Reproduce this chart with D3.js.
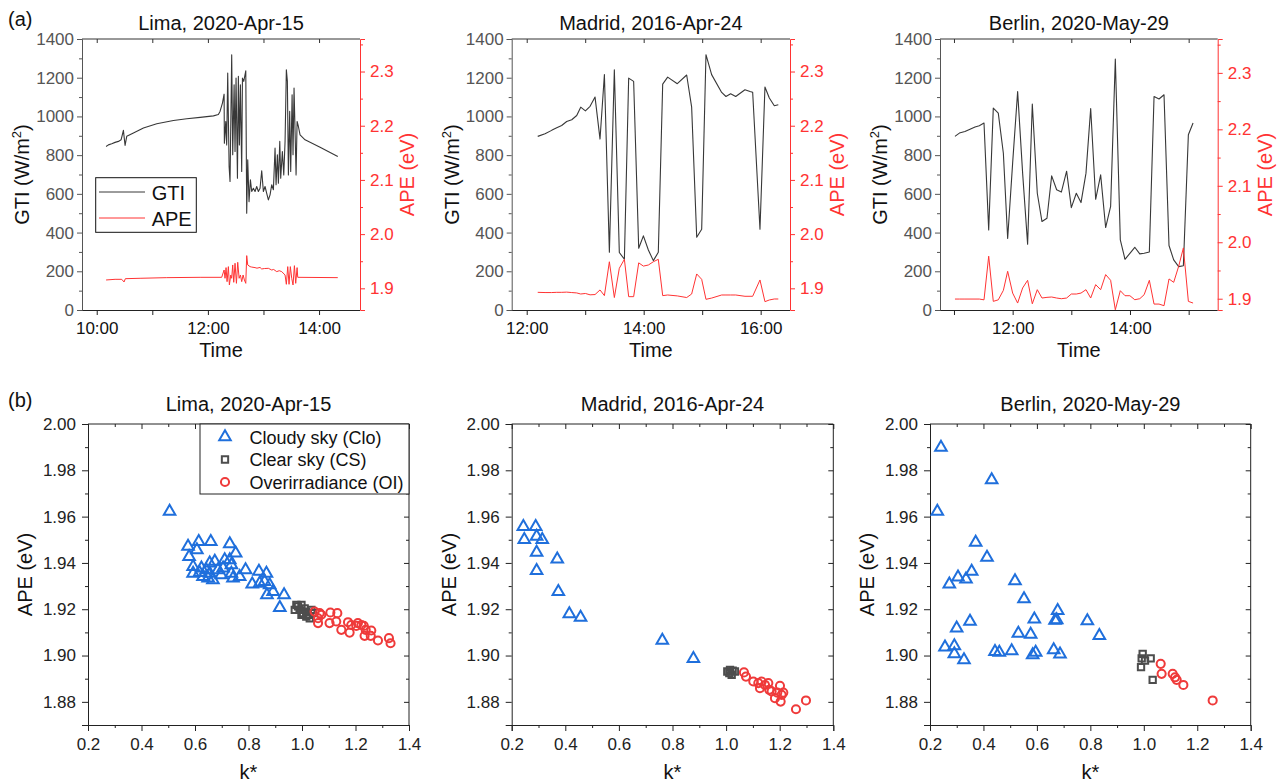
<!DOCTYPE html>
<html><head><meta charset="utf-8">
<script src="https://cdn.jsdelivr.net/npm/d3@7"></script>
<style>
body{margin:0;background:#fff;}
svg{display:block;font-family:"Liberation Sans",Arial,Helvetica,sans-serif;}
</style></head><body>
<svg id="c" width="1282" height="784"></svg>
<script>
// ---------- DATA (time = minutes after midnight) ----------
const titles = ["Lima, 2020-Apr-15", "Madrid, 2016-Apr-24", "Berlin, 2020-May-29"];

const limaGtiTime = [610.1,612.6,616.2,619.8,623.4,626.3,628.8,630.6,632.4,639.6,650.4,664.8,682.8,697.2,711.6,726.0,731.3,733.1,735.7,737.5,737.8,739.3,740.3,741.4,742.9,743.9,745.7,746.8,748.3,749.3,750.4,751.9,752.9,754.0,755.1,756.5,757.3,758.7,760.9,761.9,763.0,764.4,765.9,767.3,769.1,770.9,772.7,774.5,776.3,778.1,779.9,781.7,783.5,785.3,787.1,788.9,790.7,792.5,793.6,795.0,796.1,797.6,798.6,800.4,801.9,803.3,804.7,805.8,806.9,808.3,809.4,810.9,811.9,813.0,814.1,815.2,816.3,817.7,819.5,824.9,841.1,860.2];
const limaGti = [845,853,859,866,871,879,928,850,897,914,940,962,979,988,995,1003,1010,1026,1069,1115,862,974,853,1224,741,664,1319,802,1164,819,1198,681,1207,853,1164,716,1198,1181,1236,500,776,560,672,612,629,612,638,612,629,719,612,638,603,569,595,647,621,836,647,802,655,871,681,819,698,871,1241,1181,698,1026,716,1112,802,1147,922,698,974,948,905,879,841,793];
const limaApeTime = [610.1,619.8,627.0,629.5,630.9,646.8,675.6,711.6,734.9,737.5,738.5,739.6,740.7,742.1,743.2,744.7,745.7,746.8,747.9,749.3,750.8,752.2,753.7,755.1,756.5,758.0,759.4,760.9,761.9,763.0,765.5,767.3,770.9,773.0,776.3,778.1,781.0,785.3,788.9,791.0,794.3,797.0,799.7,803.3,804.7,806.2,807.6,809.0,810.5,811.9,813.4,814.8,816.3,817.0,860.2];
const limaApe = [1.9154,1.9166,1.9166,1.9117,1.9178,1.9185,1.9197,1.9203,1.9203,1.9338,1.9185,1.9382,1.9123,1.9400,1.9062,1.9246,1.9185,1.9431,1.9111,1.9462,1.9092,1.9480,1.9185,1.9246,1.9123,1.9246,1.9154,1.9092,1.9603,1.9431,1.9400,1.9392,1.9382,1.9372,1.9385,1.9357,1.9365,1.9369,1.9338,1.9348,1.9308,1.9325,1.9308,1.9246,1.9074,1.9400,1.9074,1.9400,1.9185,1.9062,1.9418,1.9092,1.9382,1.9203,1.9197];

const madridTime = [731.3,738.8,745.6,750.8,755.9,761.0,766.2,771.3,775.4,780.2,785.0,790.1,795.2,799.7,804.8,809.9,815.0,820.2,824.6,829.7,834.9,839.7,844.8,849.9,855.0,859.5,864.6,874.5,884.1,889.2,894.4,899.5,903.9,909.7,920.0,924.4,929.2,934.4,943.9,949.1,951.8,959.3,964.4,968.9,974.0,978.1];
const madridGti = [897,910,928,941,953,974,983,1005,1048,1029,1052,1100,883,1216,298,1241,297,262,1198,1181,319,383,310,255,298,1167,1203,1169,1214,1048,376,417,1319,1216,1124,1103,1117,1103,1138,1129,1125,417,1152,1095,1055,1060];
const madridApe = [1.8926,1.8922,1.8922,1.8926,1.8926,1.893,1.8922,1.8915,1.8895,1.8905,1.888,1.8885,1.897,1.8865,1.949,1.883,1.937,1.9535,1.8846,1.8846,1.947,1.941,1.943,1.949,1.9535,1.8865,1.8877,1.886,1.883,1.8895,1.9265,1.9166,1.8797,1.882,1.8877,1.8877,1.8877,1.8877,1.8853,1.8853,1.8853,1.9154,1.8754,1.8785,1.8803,1.8803];

const berlinTime = [661.0,665.5,671.2,676.4,681.5,685.9,690.7,695.5,700.2,705.3,710.5,714.9,720.0,725.1,730.2,735.3,740.1,745.2,750.0,755.1,759.9,765.0,769.8,775.2,780.0,785.1,789.9,795.0,799.8,804.9,810.0,815.1,820.2,825.0,830.1,834.9,839.9,844.9,850.0,854.5,859.8,864.6,869.7,874.8,879.9,884.7,889.8,894.6,899.7,904.5];
const berlinGti = [897,914,922,934,945,952,966,414,1043,1017,810,369,760,1128,707,340,1064,603,457,474,693,621,609,717,529,603,555,707,1041,572,698,426,535,1297,362,262,293,324,290,293,300,1103,1090,1112,333,259,224,229,905,966];
const berlinApe = [1.8994,1.8994,1.8994,1.8994,1.8994,1.8994,1.898,1.9753,1.8953,1.898,1.9148,1.9486,1.91,1.8923,1.919,1.9326,1.891,1.916,1.9012,1.9024,1.903,1.9012,1.9,1.9012,1.9083,1.9083,1.91,1.916,1.9012,1.9249,1.916,1.9427,1.9326,1.8804,1.9142,1.9053,1.9053,1.8982,1.9,1.9071,1.9326,1.8905,1.8905,1.8876,1.935,1.929,1.9575,1.99,1.8953,1.8923];

// scatter: k* and APE per class
const limaCloK = [0.505,0.574,0.614,0.659,0.730,0.607,0.752,0.578,0.593,0.624,0.655,0.674,0.711,0.730,0.736,0.593,0.630,0.655,0.667,0.698,0.705,0.736,0.742,0.767,0.789,0.839,0.867,0.814,0.842,0.860,0.879,0.892,0.869,0.933,0.917,0.642,0.686,0.617,0.649];
const limaCloApe = [1.9622,1.9471,1.9492,1.9492,1.9482,1.9456,1.9442,1.9427,1.9384,1.9377,1.9399,1.9406,1.9413,1.9413,1.9391,1.9355,1.9341,1.9355,1.9327,1.9348,1.9377,1.9355,1.9334,1.9341,1.9370,1.9363,1.9355,1.9308,1.9312,1.9319,1.9305,1.9276,1.9262,1.9262,1.9207,1.937,1.937,1.9358,1.9334];
const limaCsK = [0.973,0.985,0.998,0.991,1.010,1.004,1.016,1.022,1.029,0.979,1.035,1.016,0.998,1.041];
const limaCsApe = [1.9197,1.9212,1.9219,1.9197,1.9204,1.9183,1.9190,1.9176,1.9161,1.9219,1.9197,1.9168,1.9176,1.9183];
const limaOiK = [1.047,1.066,1.060,1.072,1.106,1.132,1.103,1.128,1.147,1.172,1.184,1.178,1.203,1.209,1.222,1.231,1.238,1.259,1.234,1.257,1.284,1.325,1.331,1.060];
const limaOiApe = [1.919,1.9183,1.9161,1.9176,1.9186,1.9183,1.914,1.9147,1.9111,1.9144,1.9132,1.9099,1.9128,1.914,1.9132,1.9128,1.9111,1.9108,1.9085,1.9085,1.9065,1.9075,1.9053,1.914];

const madridCloK = [0.2435,0.247,0.2895,0.293,0.314,0.293,0.293,0.370,0.374,0.415,0.457,0.762,0.878];
const madridCloApe = [1.9557,1.950,1.9557,1.9514,1.950,1.9445,1.9367,1.9416,1.9276,1.918,1.9165,1.9065,1.8986];
const madridCsK = [1.0045,1.0145,1.0245,1.0208,1.033,1.012];
const madridCsApe = [1.8931,1.8938,1.8935,1.8917,1.8931,1.8924];
const madridOiK = [1.0667,1.0742,1.1015,1.1202,1.1264,1.1326,1.1451,1.1575,1.1612,1.1699,1.1823,1.191,1.201,1.2072,1.2134,1.2035,1.2607,1.298];
const madridOiApe = [1.8927,1.8909,1.8888,1.8881,1.8859,1.8888,1.8873,1.8881,1.8852,1.8845,1.8816,1.884,1.8869,1.883,1.884,1.8801,1.8768,1.8806];

const berlinCloK = [0.241,0.2274,0.4308,0.3709,0.4133,0.3559,0.3048,0.3347,0.2723,0.5181,0.5518,0.2998,0.3497,0.5306,0.5904,0.5767,0.6777,0.674,0.7888,0.8337,0.2561,0.2911,0.2911,0.3272,0.4432,0.4594,0.5056,0.5842,0.5954,0.6628,0.6865,0.668];
const berlinCloApe = [1.9899,1.9622,1.9758,1.9489,1.9424,1.9363,1.9338,1.933,1.9308,1.9322,1.9245,1.9118,1.9147,1.9096,1.9157,1.9091,1.9194,1.9154,1.915,1.9086,1.9036,1.9042,1.9007,1.8981,1.9017,1.9013,1.902,1.9003,1.9013,1.9024,1.9006,1.9152];
const berlinCsK = [0.9958,0.9921,1.0045,1.0258,0.9896,1.0332];
const berlinCsApe = [1.9007,1.8988,1.8978,1.8988,1.895,1.8895];
const berlinOiK = [1.0632,1.0667,1.1081,1.1168,1.123,1.148,1.2577];
const berlinOiApe = [1.8964,1.8921,1.8921,1.8906,1.8895,1.8873,1.8806];

// ticks
const gtiTicks = [0,200,400,600,800,1000,1200,1400];
const gtiMinor = [100,300,500,700,900,1100,1300];
const apeTicks = [1.9,2.0,2.1,2.2,2.3];
const apeMinor = [1.95,2.05,2.15,2.25,2.35];
const kTicks = [0.2,0.4,0.6,0.8,1.0,1.2,1.4];
const kMinor = [0.3,0.5,0.7,0.9,1.1,1.3];
const apeSTicks = [1.88,1.90,1.92,1.94,1.96,1.98,2.00];
const apeSMinor = [1.87,1.89,1.91,1.93,1.95,1.97,1.99];
const legendTop = ["GTI","APE"];
const legendBottom = ["Cloudy sky (Clo)","Clear sky (CS)","Overirradiance (OI)"];

// ---------- STYLE ----------
const FONT = '"Liberation Sans",Arial,Helvetica,sans-serif';
const C_GTI = "#383838", C_APE = "#ff3333", C_AX = "#555555";
const C_CLO = "#1f6fdc", C_CS = "#4d4d4d", C_OI = "#ef3a3a";

const svg = d3.select("#c");
svg.append("rect").attr("width",1282).attr("height",784).attr("fill","#fff");

function styleAxis(g, color, fs){
  g.attr("font-size", fs).attr("font-family", FONT);
  g.selectAll("path.domain").attr("stroke", color);
  g.selectAll(".tick line").attr("stroke", color);
  g.selectAll(".tick text").attr("fill", color);
}
const hhmm = m => `${Math.floor(m/60)}:${String(Math.round(m%60)).padStart(2,"0")}`;

// ---------- TOP PANELS ----------
const topPanels = [
  {x0:82, x1:360, dom:[584.1,884.2], hours:[600,660,720,780,840], labels:[600,720,840], apeDom:[1.86,2.36],
   gT:limaGtiTime, g:limaGti, aT:limaApeTime, a:limaApe, legend:true},
  {x0:511.7, x1:790, dom:[704.6,990.1], hours:[720,780,840,900,960], labels:[720,840,960], apeDom:[1.86,2.36],
   gT:madridTime, g:madridGti, aT:madridTime, a:madridApe},
  {x0:940, x1:1217.7, dom:[645.7,929.7], hours:[660,720,780,840,900], labels:[720,840], apeDom:[1.88,2.36],
   gT:berlinTime, g:berlinGti, aT:berlinTime, a:berlinApe}
];
const TY0 = 39, TY1 = 310;

topPanels.forEach((p,i)=>{
  const x = d3.scaleLinear().domain(p.dom).range([p.x0,p.x1]);
  const yL = d3.scaleLinear().domain([0,1400]).range([TY1,TY0]);
  const yR = d3.scaleLinear().domain(p.apeDom).range([TY1,TY0]);
  const G = svg.append("g");

  // top border
  G.append("line").attr("x1",p.x0).attr("x2",p.x1).attr("y1",TY0).attr("y2",TY0).attr("stroke","#333").attr("stroke-width",1);
  G.append("g").attr("transform",`translate(0,${TY0})`)
    .call(d3.axisBottom(x).tickValues(p.hours).tickSize(4).tickFormat(""))
    .call(g=>{g.select(".domain").remove(); g.selectAll("line").attr("stroke","#333");});

  // lines
  const lineG = d3.line().x((d,j)=>x(p.gT[j])).y(d=>yL(d));
  G.append("path").datum(p.g).attr("d",lineG).attr("fill","none").attr("stroke",C_GTI).attr("stroke-width",1.1).attr("stroke-linejoin","round");
  const lineA = d3.line().x((d,j)=>x(p.aT[j])).y(d=>yR(d));
  G.append("path").datum(p.a).attr("d",lineA).attr("fill","none").attr("stroke",C_APE).attr("stroke-width",1).attr("stroke-linejoin","round");

  // bottom axis
  const xb = G.append("g").attr("transform",`translate(0,${TY1})`)
    .call(d3.axisBottom(x).tickValues(p.hours).tickSize(5).tickPadding(7)
      .tickFormat(v=> p.labels.includes(v) ? hhmm(v) : ""));
  xb.select(".domain").attr("d",`M${p.x0},0.5H${p.x1}`);
  styleAxis(xb,"#222",17);
  xb.selectAll(".tick text").attr("fill","#111");

  // left axis
  const yl = G.append("g").attr("transform",`translate(${p.x0},0)`)
    .call(d3.axisLeft(yL).tickValues(gtiTicks).tickSize(5).tickPadding(3).tickFormat(d3.format("d")));
  styleAxis(yl,C_AX,17);
  G.append("g").attr("transform",`translate(${p.x0},0)`)
    .call(d3.axisLeft(yL).tickValues(gtiMinor).tickSize(3).tickFormat(""))
    .call(g=>{g.select(".domain").remove(); g.selectAll("line").attr("stroke",C_AX);});

  // right axis
  const yr = G.append("g").attr("transform",`translate(${p.x1},0)`)
    .call(d3.axisRight(yR).tickValues(apeTicks).tickSize(5).tickPadding(5).tickFormat(d3.format(".1f")));
  styleAxis(yr,C_APE,17);
  G.append("g").attr("transform",`translate(${p.x1},0)`)
    .call(d3.axisRight(yR).tickValues(apeMinor.filter(v=>v>=p.apeDom[0]&&v<=p.apeDom[1])).tickSize(3).tickFormat(""))
    .call(g=>{g.select(".domain").remove(); g.selectAll("line").attr("stroke",C_APE);});

  // texts
  const cx = (p.x0+p.x1)/2, cy = (TY0+TY1)/2;
  G.append("text").attr("x",cx).attr("y",30).attr("text-anchor","middle").attr("font-size",20).attr("font-family",FONT).attr("fill","#111").text(titles[i]);
  G.append("text").attr("x",cx).attr("y",357).attr("text-anchor","middle").attr("font-size",20).attr("font-family",FONT).attr("fill","#111").text("Time");
  const yt = G.append("text").attr("transform",`translate(${p.x0-53},${cy}) rotate(-90)`).attr("text-anchor","middle")
    .attr("font-size",20).attr("font-family",FONT).attr("fill","#111");
  yt.append("tspan").text("GTI (W/m");
  yt.append("tspan").attr("font-size",13).attr("dy",-8).text("2");
  yt.append("tspan").attr("dy",8).text(")");
  G.append("text").attr("transform",`translate(${p.x1+54},${cy}) rotate(-90)`).attr("text-anchor","middle")
    .attr("font-size",20).attr("font-family",FONT).attr("fill",C_APE).text("APE (eV)");

  if(p.legend){
    const L = G.append("g");
    L.append("rect").attr("x",95.7).attr("y",177.7).attr("width",100.6).attr("height",54.6).attr("fill","#fff").attr("stroke","#111").attr("stroke-width",1);
    const cols=[C_GTI,C_APE], ys=[192,218];
    legendTop.forEach((t,j)=>{
      L.append("line").attr("x1",99).attr("x2",145).attr("y1",ys[j]).attr("y2",ys[j]).attr("stroke",cols[j]).attr("stroke-width",1);
      L.append("text").attr("x",151.7).attr("y",ys[j]+8).attr("font-size",20).attr("font-family",FONT).attr("fill","#111").text(t);
    });
  }
});

// ---------- BOTTOM PANELS ----------
const botPanels = [
  {x0:88, x1:409, clo:[limaCloK,limaCloApe], cs:[limaCsK,limaCsApe], oi:[limaOiK,limaOiApe], legend:true},
  {x0:511.7, x1:833.3, clo:[madridCloK,madridCloApe], cs:[madridCsK,madridCsApe], oi:[madridOiK,madridOiApe]},
  {x0:930, x1:1250.7, clo:[berlinCloK,berlinCloApe], cs:[berlinCsK,berlinCsApe], oi:[berlinOiK,berlinOiApe]}
];
const BY0 = 424, BY1 = 725;
const symTri = d3.symbol().type(d3.symbolTriangle).size(58);
const symSq = d3.symbol().type(d3.symbolSquare).size(40);
const symCi = d3.symbol().type(d3.symbolCircle).size(52);

botPanels.forEach((p,i)=>{
  const x = d3.scaleLinear().domain([0.2,1.4]).range([p.x0,p.x1]);
  const y = d3.scaleLinear().domain([1.87,2.00]).range([BY1,BY0]);
  const G = svg.append("g");

  // frame top/right
  G.append("path").attr("d",`M${p.x0},${BY0}H${p.x1}V${BY1}`).attr("fill","none").attr("stroke","#222").attr("stroke-width",1);
  G.append("g").attr("transform",`translate(0,${BY0})`).call(d3.axisBottom(x).tickValues(kTicks).tickSize(5).tickFormat(""))
    .call(g=>{g.select(".domain").remove(); g.selectAll("line").attr("stroke","#222");});
  G.append("g").attr("transform",`translate(0,${BY0})`).call(d3.axisBottom(x).tickValues(kMinor).tickSize(3).tickFormat(""))
    .call(g=>{g.select(".domain").remove(); g.selectAll("line").attr("stroke","#222");});
  G.append("g").attr("transform",`translate(${p.x1},0)`).call(d3.axisLeft(y).tickValues(apeSTicks).tickSize(5).tickFormat(""))
    .call(g=>{g.select(".domain").remove(); g.selectAll("line").attr("stroke","#222");});
  G.append("g").attr("transform",`translate(${p.x1},0)`).call(d3.axisLeft(y).tickValues(apeSMinor).tickSize(3).tickFormat(""))
    .call(g=>{g.select(".domain").remove(); g.selectAll("line").attr("stroke","#222");});

  // axes
  const xb = G.append("g").attr("transform",`translate(0,${BY1})`)
    .call(d3.axisBottom(x).tickValues(kTicks).tickSize(6).tickPadding(7).tickFormat(d3.format(".1f")));
  styleAxis(xb,"#222",17);
  G.append("g").attr("transform",`translate(0,${BY1})`).call(d3.axisBottom(x).tickValues(kMinor).tickSize(3).tickFormat(""))
    .call(g=>{g.select(".domain").remove(); g.selectAll("line").attr("stroke","#222");});
  const yl = G.append("g").attr("transform",`translate(${p.x0},0)`)
    .call(d3.axisLeft(y).tickValues(apeSTicks).tickSize(6).tickPadding(6).tickFormat(d3.format(".2f")));
  styleAxis(yl,"#222",17);
  G.append("g").attr("transform",`translate(${p.x0},0)`).call(d3.axisLeft(y).tickValues(apeSMinor).tickSize(3).tickFormat(""))
    .call(g=>{g.select(".domain").remove(); g.selectAll("line").attr("stroke","#222");});

  // points
  const draw = (arr, sym, col) => {
    G.append("g").selectAll("path").data(arr[0]).join("path")
      .attr("transform",(d,j)=>`translate(${x(d)},${y(arr[1][j])})`)
      .attr("d",sym).attr("fill","none").attr("stroke",col).attr("stroke-width",2);
  };
  draw(p.clo, symTri, C_CLO);
  draw(p.cs, symSq, C_CS);
  draw(p.oi, symCi, C_OI);

  const cx = (p.x0+p.x1)/2, cy=(BY0+BY1)/2;
  G.append("text").attr("x",cx).attr("y",411).attr("text-anchor","middle").attr("font-size",20).attr("font-family",FONT).attr("fill","#111").text(titles[i]);
  G.append("text").attr("x",cx).attr("y",779).attr("text-anchor","middle").attr("font-size",20).attr("font-family",FONT).attr("fill","#111").text("k*");
  G.append("text").attr("transform",`translate(${p.x0-56},${cy}) rotate(-90)`).attr("text-anchor","middle")
    .attr("font-size",20).attr("font-family",FONT).attr("fill","#111").text("APE (eV)");

  if(p.legend){
    const L = G.append("g");
    L.append("rect").attr("x",200).attr("y",BY0).attr("width",p.x1-200).attr("height",70).attr("fill","#fff").attr("stroke","#222").attr("stroke-width",1);
    const syms=[symTri,symSq,symCi], cols=[C_CLO,C_CS,C_OI], ys=[437,459.5,482];
    legendBottom.forEach((t,j)=>{
      L.append("path").attr("transform",`translate(225,${ys[j]})`).attr("d",syms[j]).attr("fill","none").attr("stroke",cols[j]).attr("stroke-width",2);
      L.append("text").attr("x",249.5).attr("y",ys[j]+6.5).attr("font-size",18).attr("font-family",FONT).attr("fill","#111").text(t);
    });
  }
});

// panel letters
svg.append("text").attr("x",8).attr("y",26).attr("font-size",20).attr("font-family",FONT).attr("fill","#111").text("(a)");
svg.append("text").attr("x",8).attr("y",407).attr("font-size",20).attr("font-family",FONT).attr("fill","#111").text("(b)");
</script>
</body></html>
